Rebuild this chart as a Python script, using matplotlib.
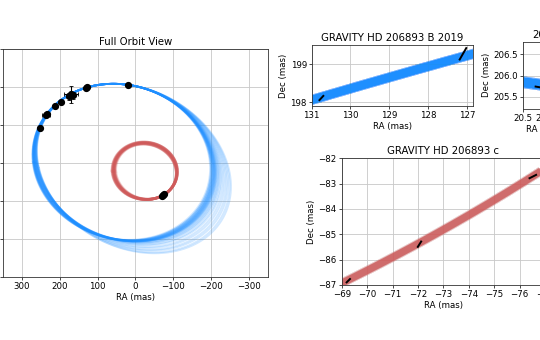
import numpy as np
import matplotlib.pyplot as plt

# --- astrometry of HD 206893 B (full orbit view) ---
b_ra = [253, 236, 234, 212, 198, 176, 170, 166, 130.8, 127.1, 20.2]
b_dec = [92, 127, 130, 151, 161, 175, 181, 178, 198.1, 199.3, 205.8]
b_ra_err = [3, 11, 5, 3, 3, 8, 18, 5, 0.1, 0.1, 0.1]
b_dec_err = [3, 5, 4, 3, 3, 8, 22, 10, 0.1, 0.2, 0.1]

# --- GRAVITY epochs: centre and half-extent of the error ellipse ---
grav_b19_ra = [130.75, 127.10]
grav_b19_dec = [198.11, 199.27]
grav_b19_dra = [-0.05, -0.085]
grav_b19_ddec = [0.055, 0.15]

grav_b21_ra = [20.15]
grav_b21_dec = [205.73]
grav_b21_dra = [-0.06]
grav_b21_ddec = [-0.01]

grav_c_ra = [-69.26, -72.06, -76.52]
grav_c_dec = [-86.83, -85.39, -82.72]
grav_c_dra = [-0.066, -0.066, -0.13]
grav_c_ddec = [0.066, 0.105, 0.066]

# --- orbit samples: points each sampled orbit passes through ---
b_fixed = [(131.0, 198.06), (126.9, 199.25), (20.2, 205.8)]
b_left_ra = [268, 267, 267, 266, 266, 265, 265, 264, 264, 263, 263, 262, 262, 261, 261, 260,
             260, 259, 259, 258, 258, 257, 257, 256, 256, 255, 255, 254, 254, 253, 265, 263]
b_right_ra = [-196, -198, -199, -200, -201, -202, -203, -204, -205, -206, -207, -208, -209, -210, -211, -212,
              -213, -214, -216, -218, -220, -222, -225, -228, -232, -236, -240, -244, -248, -252, -204, -208]
b_right_dec = [-33, -37, -30, -35, -39, -32, -36, -34, -40, -31, -37, -35, -38, -33, -36, -39,
               -34, -37, -40, -35, -38, -41, -43, -45, -42, -47, -44, -49, -46, -51, -35, -33]

c_fixed = [(-69.0, -86.93), (-76.8, -82.53)]
c_left_ra = [52, 54, 55, 56, 57, 58, 58, 59, 60, 61, 62, 60, 57, 55]
c_top_dec = [49, 50, 51, 52, 52, 53, 53, 54, 54, 55, 55, 51, 50, 53]
c_right_ra = [-107, -108, -108, -109, -109, -110, -110, -110, -111, -111, -111, -109, -108, -110]


def fit_conic(points):
    p = np.asarray(points, float) / 100.0
    x, y = p[:, 0], p[:, 1]
    m = np.column_stack([x * x, x * y, y * y, x, y, np.ones_like(x)])
    return np.linalg.svd(m)[2][-1]


def conic_curve(coef, n=8000):
    a, b, c, d, e, f = coef
    x0, y0 = np.linalg.solve([[2 * a, b], [b, 2 * c]], [-d, -e])
    f0 = a * x0 ** 2 + b * x0 * y0 + c * y0 ** 2 + d * x0 + e * y0 + f
    t = np.linspace(0, 2 * np.pi, n)
    q = a * np.cos(t) ** 2 + b * np.cos(t) * np.sin(t) + c * np.sin(t) ** 2
    r = np.sqrt(-f0 / q)
    return 100 * (x0 + r * np.cos(t)), 100 * (y0 + r * np.sin(t))


b_orbits = [conic_curve(fit_conic(b_fixed + [(l, -20), (r, d)]))
            for l, r, d in zip(b_left_ra, b_right_ra, b_right_dec)]
c_orbits = [conic_curve(fit_conic(c_fixed + [(l, -12), (-13, t), (r, -26)]))
            for l, t, r in zip(c_left_ra, c_top_dec, c_right_ra)]

blue = '#1e8fff'
red = '#cf5a5a'
fs_tick = 6.2
fs_title = 7.3

fig = plt.figure(figsize=(5.4, 3.4), dpi=100)
ax_full = fig.add_axes([0.00556, 0.1853, 0.4907, 0.6706])
ax_b19 = fig.add_axes([0.5772, 0.6882, 0.2981, 0.1794])
ax_b21 = fig.add_axes([0.9691, 0.6794, 0.0809, 0.1979])
ax_c = fig.add_axes([0.6328, 0.1618, 0.3765, 0.3726])


def style(ax, title):
    ax.set_title(title, fontsize=fs_title, pad=3)
    ax.set_xlabel('RA (mas)', fontsize=fs_tick, labelpad=1.5)
    ax.set_ylabel('Dec (mas)', fontsize=fs_tick, labelpad=2)
    ax.tick_params(labelsize=fs_tick, length=2, width=0.5, pad=1.5)
    ax.grid(True, color='#c8c8c8', lw=0.6)
    ax.set_axisbelow(True)
    for s in ax.spines.values():
        s.set_linewidth(0.6)
        s.set_color('#333333')


# full orbit view
for x, y in b_orbits:
    ax_full.plot(x, y, color=blue, lw=1.3, alpha=0.2)
for x, y in c_orbits:
    ax_full.plot(x, y, color=red, lw=1.9, alpha=0.3)
ax_full.errorbar(b_ra, b_dec, xerr=b_ra_err, yerr=b_dec_err, fmt='o', color='k',
                 ms=4.2, elinewidth=0.8, capsize=1.2, capthick=0.6, zorder=5)
ax_full.plot(grav_c_ra, grav_c_dec, 'o', color='k', ms=4.2, zorder=5)
ax_full.set_xlim(350, -350)
ax_full.set_ylim(-300, 300)
ax_full.set_xticks(np.arange(300, -301, -100))
ax_full.set_yticks(np.arange(-300, 301, 100))
style(ax_full, 'Full Orbit View')


def zoom_panel(ax, orbits, color, lw, ra, dec, dra, ddec):
    for x, y in orbits:
        ax.plot(x, y, color=color, lw=lw * 1.3, alpha=0.03, solid_capstyle='butt')
        ax.plot(x, y, color=color, lw=lw, alpha=0.1, solid_capstyle='butt')
    for r, d, dr, dd in zip(ra, dec, dra, ddec):
        ax.plot([r - dr, r + dr], [d - dd, d + dd], color='k', lw=1.4, zorder=5)


zoom_panel(ax_b19, b_orbits, blue, 5.5, grav_b19_ra, grav_b19_dec, grav_b19_dra, grav_b19_ddec)
ax_b19.set_xlim(131, 126.85)
ax_b19.set_ylim(197.9, 199.5)
ax_b19.set_xticks([131, 130, 129, 128, 127])
ax_b19.set_yticks([198, 199])
style(ax_b19, 'GRAVITY HD 206893 B 2019')

zoom_panel(ax_b21, b_orbits, blue, 6.5, grav_b21_ra, grav_b21_dec, grav_b21_dra, grav_b21_ddec)
ax_b21.set_xlim(20.5, 19.47)
ax_b21.set_ylim(205.21, 206.8)
ax_b21.set_xticks([20.5, 20.0, 19.5])
ax_b21.set_yticks([205.5, 206.0, 206.5])
style(ax_b21, '2021')

zoom_panel(ax_c, c_orbits, red, 5.0, grav_c_ra, grav_c_dec, grav_c_dra, grav_c_ddec)
ax_c.set_xlim(-69, -77)
ax_c.set_ylim(-87, -82)
ax_c.set_xticks(np.arange(-69, -78, -1))
ax_c.set_yticks(np.arange(-87, -81, 1))
style(ax_c, 'GRAVITY HD 206893 c')

fig.savefig('out.png', dpi=100)
